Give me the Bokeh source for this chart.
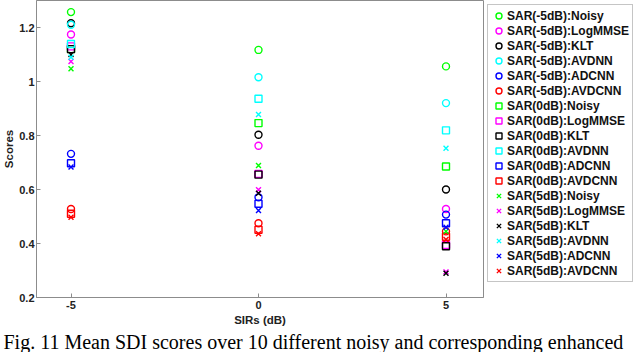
from bokeh.plotting import figure
from bokeh.models import Legend, LegendItem, FixedTicker, Title, Range1d
from bokeh.embed import file_html
from bokeh.resources import INLINE

# ---------------- data ----------------
sirs = [-5, 0, 5]
methods = ["Noisy", "LogMMSE", "KLT", "AVDNN", "ADCNN", "AVDCNN"]
method_colors = ["#00FF00", "#FF00FF", "#000000", "#00FFFF", "#0000FF", "#FF0000"]
sar_levels = ["-5dB", "0dB", "5dB"]
sar_markers = ["circle", "square", "x"]

# SAR(-5dB)
m5_noisy = [1.257, 1.117, 1.056]
m5_logmmse = [1.174, 0.762, 0.528]
m5_klt = [1.216, 0.803, 0.600]
m5_avdnn = [1.210, 1.016, 0.920]
m5_adcnn = [0.732, 0.571, 0.507]
m5_avdcnn = [0.528, 0.475, 0.445]
# SAR(0dB)
z0_noisy = [1.120, 0.846, 0.685]
z0_logmmse = [1.130, 0.658, 0.395]
z0_klt = [1.120, 0.655, 0.390]
z0_avdnn = [1.139, 0.936, 0.819]
z0_adcnn = [0.697, 0.547, 0.475]
z0_avdcnn = [0.510, 0.451, 0.425]
# SAR(5dB)
p5_noisy = [1.047, 0.689, 0.445]
p5_logmmse = [1.074, 0.599, 0.295]
p5_klt = [1.100, 0.586, 0.290]
p5_avdnn = [1.090, 0.878, 0.753]
p5_adcnn = [0.683, 0.522, 0.460]
p5_avdcnn = [0.497, 0.436, 0.415]

series = [
    [m5_noisy, m5_logmmse, m5_klt, m5_avdnn, m5_adcnn, m5_avdcnn],
    [z0_noisy, z0_logmmse, z0_klt, z0_avdnn, z0_adcnn, z0_avdcnn],
    [p5_noisy, p5_logmmse, p5_klt, p5_avdnn, p5_adcnn, p5_avdcnn],
]

y_ticks = [0.2, 0.4, 0.6, 0.8, 1.0, 1.2]
y_tick_labels = ["0.2", "0.4", "0.6", "0.8", "1", "1.2"]
x_ticks = [-5, 0, 5]
x_tick_labels = ["-5", "0", "5"]
caption = "Fig. 11  Mean SDI scores over 10 different noisy and corresponding enhanced"

# ---------------- figure ----------------
GRAY = "#8c8c8c"
p = figure(frame_width=447, frame_height=297, output_backend="svg", toolbar_location=None,
           x_range=Range1d(-5.92, 6.0), y_range=Range1d(0.2, 1.3),
           min_border_left=0, min_border_top=0, min_border_right=0,
           min_border_bottom=0)
p.xgrid.visible = False
p.ygrid.visible = False
p.outline_line_color = GRAY
p.outline_line_width = 1

items = []
for si, lvl in enumerate(sar_levels):
    for mi, meth in enumerate(methods):
        c = method_colors[mi]
        r = p.scatter(sirs, series[si][mi], marker=sar_markers[si], size=7,
                      line_color=c, fill_color=None, line_width=1.4)
        items.append(LegendItem(label="SAR(%s):%s" % (lvl, meth), renderers=[r]))

for ax in (p.xaxis[0], p.yaxis[0]):
    ax.axis_line_color = GRAY
    ax.major_tick_line_color = GRAY
    ax.major_tick_in = 4
    ax.major_tick_out = 0
    ax.minor_tick_line_color = None
    ax.major_label_text_font = "Liberation Sans"
    ax.major_label_text_font_style = "bold"
    ax.major_label_text_font_size = "11px"
    ax.major_label_text_color = "#222222"
    ax.axis_label_text_font = "Liberation Sans"
    ax.axis_label_text_font_style = "bold"
    ax.axis_label_text_font_size = "11.5px"
    ax.axis_label_text_color = "#222222"

p.xaxis.ticker = FixedTicker(ticks=x_ticks)
p.xaxis.major_label_overrides = dict(zip(x_ticks, x_tick_labels))
p.yaxis.ticker = FixedTicker(ticks=y_ticks)
p.yaxis.major_label_overrides = dict(zip(y_ticks, y_tick_labels))
p.xaxis.axis_label = "SIRs (dB)"
p.yaxis.axis_label = "Scores"
p.xaxis.major_label_standoff = 3
p.xaxis.axis_label_standoff = 2
p.yaxis.major_label_standoff = 2
p.yaxis.axis_label_standoff = 1

legend = Legend(items=items, location="top_left", margin=4, padding=3, spacing=0,
                label_height=15, glyph_height=15, glyph_width=15, label_standoff=1,
                label_text_font="Liberation Sans", label_text_font_style="bold",
                label_text_font_size="12px", label_text_color="#111111",
                border_line_color=GRAY, border_line_width=1,
                background_fill_color="white")
p.add_layout(legend, "right")

t = Title(text=caption, align="left", text_font="Liberation Serif",
          text_font_size="20px", text_font_style="normal", offset=-33,
          standoff=0, text_color="black")
p.add_layout(t, "below")

open("out.html", "w").write(file_html(p, INLINE))
